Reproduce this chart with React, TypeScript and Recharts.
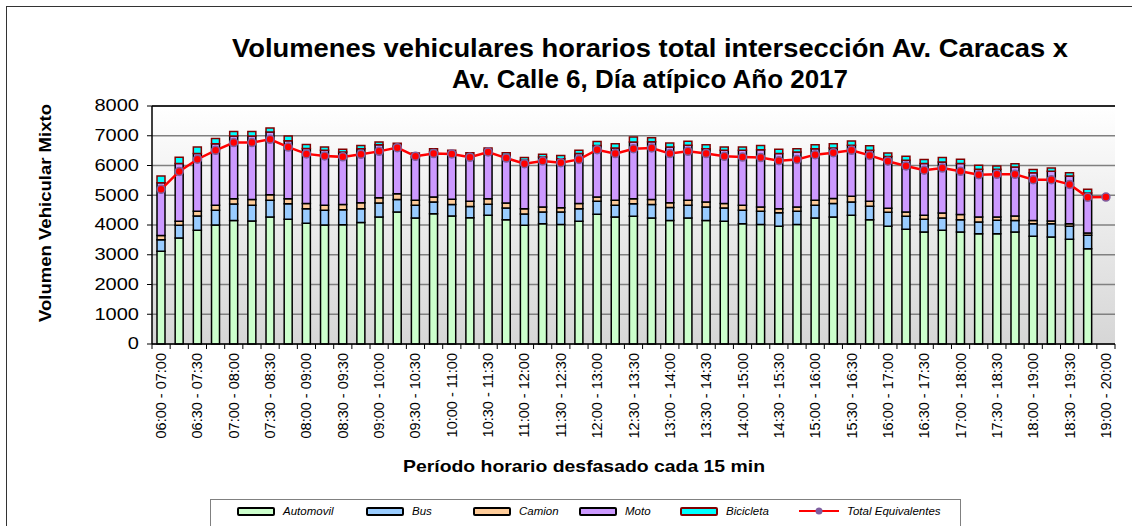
import React from "react";
import {
  ComposedChart,
  Bar,
  Line,
  XAxis,
  YAxis,
  CartesianGrid,
  ReferenceLine,
} from "recharts";

// periods shifted every 15 min
const periodos = [
  "06:00 - 07:00", "06:15 - 07:15", "06:30 - 07:30", "06:45 - 07:45",
  "07:00 - 08:00", "07:15 - 08:15", "07:30 - 08:30", "07:45 - 08:45",
  "08:00 - 09:00", "08:15 - 09:15", "08:30 - 09:30", "08:45 - 09:45",
  "09:00 - 10:00", "09:15 - 10:15", "09:30 - 10:30", "09:45 - 10:45",
  "10:00 - 11:00", "10:15 - 11:15", "10:30 - 11:30", "10:45 - 11:45",
  "11:00 - 12:00", "11:15 - 12:15", "11:30 - 12:30", "11:45 - 12:45",
  "12:00 - 13:00", "12:15 - 13:15", "12:30 - 13:30", "12:45 - 13:45",
  "13:00 - 14:00", "13:15 - 14:15", "13:30 - 14:30", "13:45 - 14:45",
  "14:00 - 15:00", "14:15 - 15:15", "14:30 - 15:30", "14:45 - 15:45",
  "15:00 - 16:00", "15:15 - 16:15", "15:30 - 16:30", "15:45 - 16:45",
  "16:00 - 17:00", "16:15 - 17:15", "16:30 - 17:30", "16:45 - 17:45",
  "17:00 - 18:00", "17:15 - 18:15", "17:30 - 18:30", "17:45 - 18:45",
  "18:00 - 19:00", "18:15 - 19:15", "18:30 - 19:30", "18:45 - 19:45",
  "19:00 - 20:00",
];

const automovil = [
  3115, 3565, 3820, 4000, 4155, 4135, 4270, 4190, 4055, 4000, 4010, 4080, 4270,
  4435, 4235, 4380, 4305, 4245, 4325, 4180, 3990, 4045, 4020, 4125, 4360, 4270,
  4290, 4235, 4155, 4235, 4155, 4125, 4045, 4020, 3955, 4020, 4235, 4270, 4325,
  4180, 3960, 3855, 3765, 3820, 3765, 3710, 3710, 3765, 3620, 3595, 3520, 3205,
  null,
];
const bus = [
  390, 425, 485, 495, 550, 525, 560, 525, 495, 495, 505, 470, 470,
  425, 425, 395, 380, 380, 370, 390, 380, 390, 415, 425, 435, 390,
  425, 450, 435, 425, 450, 450, 450, 440, 460, 440, 425, 450, 450,
  450, 465, 435, 425, 415, 415, 390, 450, 390, 425, 450, 435, 450,
  null,
];
const camion = [
  145, 135, 155, 165, 180, 200, 190, 170, 170, 170, 170, 200, 180,
  190, 170, 170, 180, 170, 190, 170, 180, 170, 145, 170, 145, 170,
  170, 170, 160, 170, 170, 145, 170, 145, 135, 145, 170, 170, 190,
  170, 140, 145, 135, 170, 170, 170, 110, 145, 110, 90, 90, 75,
  null,
];
const moto = [
  1770, 1940, 1940, 2075, 2105, 2130, 2105, 1950, 1850, 1850, 1770, 1815, 1780,
  1600, 1455, 1510, 1570, 1545, 1625, 1600, 1625, 1680, 1650, 1680, 1735, 1760,
  1905, 1940, 1870, 1850, 1790, 1795, 1850, 1925, 1850, 1850, 1735, 1700, 1715,
  1715, 1740, 1740, 1740, 1715, 1715, 1600, 1600, 1650, 1600, 1670, 1600, 1345,
  null,
];
const bicicleta = [
  225, 215, 225, 170, 155, 155, 135, 155, 135, 110, 90, 110, 90,
  100, 135, 110, 80, 90, 80, 90, 90, 90, 110, 110, 135, 145,
  170, 135, 135, 135, 135, 110, 110, 145, 145, 110, 135, 145, 145,
  145, 115, 135, 135, 145, 145, 135, 110, 110, 110, 110, 110, 125,
  null,
];
const totalEquivalentes = [
  5200, 5800, 6210, 6510, 6770, 6770, 6880, 6620, 6390, 6320, 6290, 6375, 6475,
  6600, 6310, 6400, 6390, 6275, 6455, 6250, 6060, 6150, 6095, 6205, 6530, 6400,
  6565, 6590, 6400, 6475, 6400, 6310, 6285, 6265, 6160, 6205, 6365, 6430, 6510,
  6340, 6145, 5985, 5840, 5915, 5805, 5690, 5705, 5705, 5525, 5525, 5365, 4930,
  4940,
];

const yTicks = [0, 1000, 2000, 3000, 4000, 5000, 6000, 7000, 8000];

const series = [
  { key: "automovil", name: "Automovil", fill: "#CCFFCC", stroke: "#000000" },
  { key: "bus", name: "Bus", fill: "#99CCFF", stroke: "#000000" },
  { key: "camion", name: "Camion", fill: "#FFCC99", stroke: "#000000" },
  { key: "moto", name: "Moto", fill: "#CC99FF", stroke: "#000000" },
  { key: "bicicleta", name: "Bicicleta", fill: "#00FFFF", stroke: "#800000" },
];

const data = periodos.map((periodo, i) => ({
  periodo,
  automovil: automovil[i],
  bus: bus[i],
  camion: camion[i],
  moto: moto[i],
  bicicleta: bicicleta[i],
  total: totalEquivalentes[i],
}));

const FONT = "'Liberation Sans', Arial, Helvetica, sans-serif";
const W = 1132;
const H = 526;
const PLOT_LEFT = 152;
const PLOT_RIGHT = 1115;
const BAND = (PLOT_RIGHT - PLOT_LEFT) / periodos.length;

// Excel puts the tick marks between categories and labels every other one
function PeriodTick(props: any) {
  const { x, y, payload } = props;
  const i = props.index ?? payload?.index ?? 0;
  const last = i === periodos.length - 1;
  return (
    <g>
      <line x1={x - BAND / 2} x2={x - BAND / 2} y1={y} y2={y + 5} stroke="#000" />
      {last && <line x1={x + BAND / 2} x2={x + BAND / 2} y1={y} y2={y + 5} stroke="#000" />}
      {i % 2 === 0 && (
        <text
          x={x}
          y={y + 9}
          transform={`rotate(-90 ${x} ${y + 9})`}
          textAnchor="end"
          dominantBaseline="central"
          fontSize={14.5}
          fontFamily={FONT}
          fill="#000"
        >
          {payload.value}
        </text>
      )}
    </g>
  );
}

// the source picture is stretched sideways, so the value labels are too
function ValueTick(props: any) {
  const { x, y, payload } = props;
  return (
    <text
      x={x}
      y={y}
      textAnchor="end"
      dominantBaseline="central"
      fontSize={16}
      fontFamily={FONT}
      fill="#000"
      transform={`translate(${x} ${y}) scale(1.25 1) translate(${-x} ${-y})`}
    >
      {payload.value}
    </text>
  );
}

const legendLeft = [26, 155, 262, 368, 469, 588];

function LegendBox() {
  return (
    <div
      style={{
        position: "absolute",
        left: 210,
        top: 499,
        width: 749,
        height: 40,
        border: "1px solid #808080",
        background: "#fff",
        fontFamily: FONT,
        fontStyle: "italic",
        fontSize: 11.5,
      }}
    >
      {series.map((s, i) => (
        <div
          key={s.key}
          style={{ position: "absolute", left: legendLeft[i], top: 5, display: "flex", alignItems: "center", whiteSpace: "nowrap" }}
        >
          <span
            style={{
              display: "inline-block",
              width: 34,
              height: 5,
              background: s.fill,
              border: `2px solid ${s.stroke}`,
              borderRadius: 2,
              marginRight: 8,
            }}
          />
          {s.name}
        </div>
      ))}
      <div
        style={{ position: "absolute", left: legendLeft[5], top: 5, display: "flex", alignItems: "center", whiteSpace: "nowrap" }}
      >
        <svg width={40} height={10} style={{ marginRight: 8 }}>
          <line x1={0} x2={40} y1={5} y2={5} stroke="#FF0000" strokeWidth={2} />
          <circle cx={20} cy={5} r={3.5} fill="#7F5FA0" />
        </svg>
        Total Equivalentes
      </div>
    </div>
  );
}

export default function App() {
  return (
    <div style={{ position: "absolute", left: 0, top: 0, width: W, height: H, overflow: "hidden", background: "#fff" }}>
      <div
        style={{
          position: "absolute",
          left: 6,
          top: 6,
          width: W + 20,
          height: H + 20,
          borderLeft: "1px solid #333",
          borderTop: "1px solid #333",
        }}
      />
      <ComposedChart
        width={W}
        height={H}
        data={data}
        margin={{ top: 106, right: 17, left: 92, bottom: 82 }}
        barCategoryGap={0}
      >
        <defs>
          <linearGradient id="plotBg" x1="0" y1="0" x2="0" y2="1">
            <stop offset="0%" stopColor="#FFFFFF" />
            <stop offset="100%" stopColor="#D6D6D6" />
          </linearGradient>
        </defs>
        <CartesianGrid vertical={false} stroke="#808080" strokeWidth={1.5} fill="url(#plotBg)" />
        <XAxis
          dataKey="periodo"
          interval={0}
          height={100}
          tickSize={0}
          tickMargin={0}
          tickLine={false}
          axisLine={{ stroke: "#000", strokeWidth: 1.5 }}
          tick={<PeriodTick />}
        />
        <YAxis
          domain={[0, 8000]}
          ticks={yTicks}
          interval={0}
          width={60}
          tickSize={5}
          tickMargin={8}
          tickLine={{ stroke: "#000" }}
          axisLine={{ stroke: "#000", strokeWidth: 1.5 }}
          tick={<ValueTick />}
        />
        <YAxis
          yAxisId="frame"
          orientation="right"
          domain={[0, 8000]}
          width={0}
          tick={false}
          tickLine={false}
          axisLine={{ stroke: "#000", strokeWidth: 1.5 }}
        />
        <ReferenceLine y={8000} stroke="#000" strokeWidth={1.5} />
        {series.map((s) => (
          <Bar
            key={s.key}
            dataKey={s.key}
            name={s.name}
            stackId="veh"
            barSize={8}
            fill={s.fill}
            stroke={s.stroke}
            strokeWidth={1.5}
            isAnimationActive={false}
          />
        ))}
        <Line
          dataKey="total"
          name="Total Equivalentes"
          type="linear"
          stroke="#FF0000"
          strokeWidth={2.5}
          dot={{ r: 4, fill: "#FF0000", stroke: "#7F5FA0", strokeWidth: 1.5 }}
          isAnimationActive={false}
        />
      </ComposedChart>
      <svg
        width={W}
        height={H}
        style={{ position: "absolute", left: 0, top: 0, pointerEvents: "none" }}
        fontFamily={FONT}
        fontWeight="bold"
      >
        <text x={650} y={57} textAnchor="middle" fontSize={26} textLength={836} lengthAdjust="spacingAndGlyphs">
          Volumenes vehiculares horarios total intersección Av. Caracas x
        </text>
        <text x={650} y={88} textAnchor="middle" fontSize={26} textLength={396} lengthAdjust="spacingAndGlyphs">
          Av. Calle 6, Día atípico Año 2017
        </text>
        <text x={584} y={472} textAnchor="middle" fontSize={17} textLength={362} lengthAdjust="spacingAndGlyphs">
          Período horario desfasado cada 15 min
        </text>
        <text
          x={51}
          y={213}
          textAnchor="middle"
          fontSize={16.5}
          textLength={218}
          lengthAdjust="spacingAndGlyphs"
          transform="rotate(-90 51 213)"
        >
          Volumen Vehicular Mixto
        </text>
      </svg>
      <LegendBox />
    </div>
  );
}
